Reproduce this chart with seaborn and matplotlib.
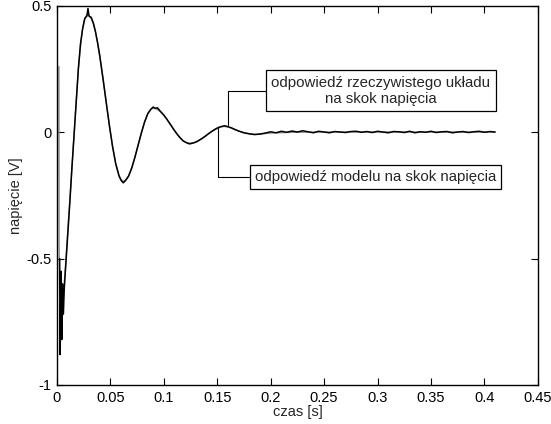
import matplotlib
matplotlib.use("Agg")
import matplotlib.pyplot as plt
import seaborn as sns

t_real = [0.0025, 0.0030, 0.0038, 0.0045, 0.0052, 0.0060, 0.0068, 0.008, 0.010, 0.012,
          0.014, 0.016, 0.018, 0.020, 0.022, 0.024, 0.026, 0.028, 0.029, 0.030,
          0.032, 0.034, 0.036, 0.038, 0.040, 0.043, 0.046, 0.049, 0.052, 0.055,
          0.058, 0.060, 0.062, 0.064, 0.067, 0.070, 0.073, 0.076, 0.079, 0.082,
          0.085, 0.088, 0.090, 0.092, 0.094, 0.097, 0.100, 0.103, 0.106, 0.109,
          0.112, 0.115, 0.118, 0.121, 0.124, 0.127, 0.130, 0.133, 0.136, 0.139,
          0.142, 0.145, 0.148, 0.151, 0.154, 0.157, 0.160, 0.163, 0.166, 0.170,
          0.175, 0.180, 0.185, 0.190, 0.195, 0.200, 0.205, 0.210, 0.215, 0.220,
          0.225, 0.230, 0.235, 0.240, 0.245, 0.250, 0.255, 0.260, 0.265, 0.270,
          0.275, 0.280, 0.285, 0.290, 0.295, 0.300, 0.305, 0.310, 0.315, 0.320,
          0.325, 0.330, 0.335, 0.340, 0.345, 0.350, 0.355, 0.360, 0.365, 0.370,
          0.375, 0.380, 0.385, 0.390, 0.395, 0.400, 0.405, 0.410]
v_real = [-0.50, -0.88, -0.55, -0.82, -0.60, -0.72, -0.62, -0.54, -0.41, -0.28,
          -0.14, -0.01, 0.12, 0.25, 0.35, 0.41, 0.45, 0.46, 0.49, 0.46,
          0.455, 0.433, 0.399, 0.355, 0.304, 0.215, 0.121, 0.028, -0.056, -0.125,
          -0.172, -0.190, -0.200, -0.192, -0.174, -0.141, -0.098, -0.050, -0.002, 0.041,
          0.074, 0.092, 0.100, 0.095, 0.097, 0.082, 0.068, 0.051, 0.032, 0.013,
          -0.005, -0.021, -0.034, -0.041, -0.046, -0.043, -0.039, -0.032, -0.024, -0.015,
          -0.005, 0.004, 0.012, 0.019, 0.023, 0.026, 0.022, 0.018, 0.012, 0.005,
          -0.002, -0.006, -0.009, -0.007, -0.003, 0.002, -0.002, 0.004, 0.000, 0.005,
          0.001, 0.006, 0.002, -0.002, 0.004, 0.001, -0.002, 0.003, 0.001, -0.001,
          0.003, 0.004, 0.000, 0.003, -0.001, 0.004, 0.001, -0.002, 0.003, 0.002,
          -0.001, 0.004, -0.002, 0.002, 0.000, 0.004, -0.001, 0.002, 0.003, -0.002,
          0.001, 0.003, -0.001, 0.002, 0.004, 0.000, 0.003, 0.001]

# simulated response of the model
t_model = [0.0018, 0.0020, 0.0030, 0.0045, 0.006, 0.008, 0.010, 0.012, 0.014, 0.016,
           0.018, 0.020, 0.022, 0.024, 0.026, 0.028, 0.030, 0.032, 0.034, 0.036,
           0.038, 0.040, 0.043, 0.046, 0.049, 0.052, 0.055, 0.058, 0.060, 0.062,
           0.064, 0.067, 0.070, 0.073, 0.076, 0.079, 0.082, 0.085, 0.088, 0.090,
           0.092, 0.094, 0.097, 0.100, 0.103, 0.106, 0.109, 0.112, 0.115, 0.118,
           0.121, 0.124, 0.127, 0.130, 0.133, 0.136, 0.139, 0.142, 0.145, 0.148,
           0.151, 0.154, 0.157, 0.160, 0.163, 0.166, 0.170, 0.175, 0.180, 0.185,
           0.190, 0.200, 0.220, 0.250, 0.300, 0.350, 0.410]
v_model = [0.26, -0.45, -0.78, -0.70, -0.64, -0.53, -0.40, -0.27, -0.14, -0.01,
           0.12, 0.25, 0.34, 0.41, 0.45, 0.465, 0.46, 0.45, 0.43, 0.397,
           0.353, 0.302, 0.214, 0.121, 0.029, -0.055, -0.124, -0.170, -0.188, -0.194,
           -0.190, -0.172, -0.140, -0.097, -0.050, -0.003, 0.040, 0.073, 0.091, 0.095,
           0.094, 0.090, 0.081, 0.067, 0.050, 0.032, 0.013, -0.005, -0.020, -0.033,
           -0.040, -0.043, -0.042, -0.038, -0.031, -0.023, -0.014, -0.005, 0.004, 0.011,
           0.018, 0.022, 0.023, 0.021, 0.017, 0.012, 0.005, -0.002, -0.006, -0.008,
           -0.007, -0.003, 0.000, 0.001, 0.001, 0.001, 0.001]

x_ticks = [0, 0.05, 0.1, 0.15, 0.2, 0.25, 0.3, 0.35, 0.4, 0.45]
x_labels = ["0", "0.05", "0.1", "0.15", "0.2", "0.25", "0.3", "0.35", "0.4", "0.45"]
y_ticks = [-1, -0.5, 0, 0.5]
y_labels = ["-1", "-0.5", "0", "0.5"]

sns.set_style("ticks")
plt.rcParams["font.family"] = ["Liberation Sans", "DejaVu Sans"]
plt.rcParams["font.size"] = 10

fig = plt.figure(figsize=(5.51, 4.24), dpi=100)
ax = fig.add_axes([0.1034, 0.092, 0.8727, 0.894])

sns.lineplot(x=t_model, y=v_model, estimator=None, sort=False, color="#8a8a8a", lw=1.0, ax=ax)
sns.lineplot(x=t_real, y=v_real, estimator=None, sort=False, color="black", lw=1.1, ax=ax)

ax.set_xlim(0, 0.45)
ax.set_ylim(-1, 0.5)
ax.set_xticks(x_ticks)
ax.set_xticklabels(x_labels)
ax.set_yticks(y_ticks)
ax.set_yticklabels(y_labels)
ax.tick_params(direction="in", length=5, width=0.8, top=True, right=True,
               labelsize=10.5, pad=4, colors="black")
for s in ax.spines.values():
    s.set_visible(True)
    s.set_linewidth(1.0)
    s.set_color("black")
ax.set_xlabel("czas [s]", fontsize=10.5, labelpad=0)
ax.set_ylabel("napięcie [V]", fontsize=10.5, labelpad=2)

box = dict(boxstyle="square,pad=0.35", fc="white", ec="black", lw=0.9)
ax.annotate("odpowiedź rzeczywistego układu\nna skok napięcia",
            xy=(0.160, 0.030), xytext=(0.303, 0.164),
            ha="center", va="center", fontsize=10.8, bbox=box,
            arrowprops=dict(arrowstyle="-", color="black", lw=0.8,
                            connectionstyle="angle,angleA=0,angleB=90,rad=0",
                            shrinkA=0, shrinkB=0))
ax.annotate("odpowiedź modelu na skok napięcia",
            xy=(0.151, 0.016), xytext=(0.298, -0.176),
            ha="center", va="center", fontsize=10.8, bbox=box,
            arrowprops=dict(arrowstyle="-", color="black", lw=0.8,
                            connectionstyle="angle,angleA=0,angleB=90,rad=0",
                            shrinkA=0, shrinkB=0))

plt.savefig("out.png", dpi=100)
